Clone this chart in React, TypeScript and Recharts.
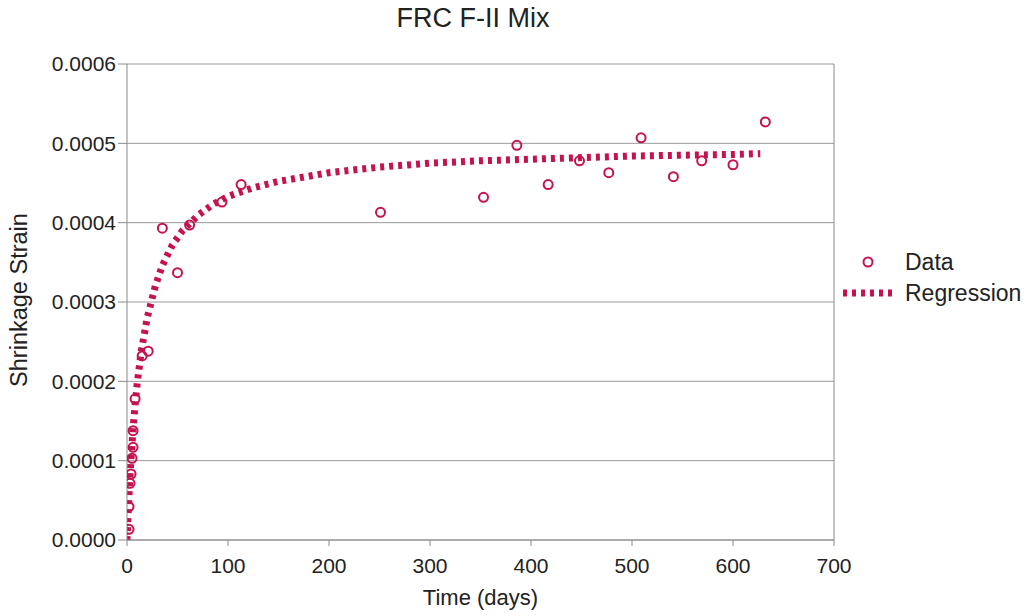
import React from 'react';
import { ComposedChart, Scatter, Line, XAxis, YAxis, CartesianGrid, ReferenceLine } from 'recharts';

// measured shrinkage (day, strain)
const dataDays = [2, 2, 3, 4, 5, 6, 6, 8, 15, 21, 35, 50, 62, 94, 113, 251, 353, 386, 417, 448, 477, 509, 541, 569, 600, 632];
const dataStrain = [
  0.0000135, 0.000042, 0.0000715, 0.0000832, 0.000103, 0.0001168, 0.0001378, 0.000178, 0.000232, 0.000238,
  0.000393, 0.000337, 0.000397, 0.000426, 0.000448, 0.000413, 0.000432, 0.0004975, 0.000448, 0.000478,
  0.000463, 0.000507, 0.000458, 0.000478, 0.000473, 0.000527,
];

// regression curve
const regDays = [0, 2, 4, 6, 8, 10, 14, 20, 28, 35, 45, 55, 70, 85, 100, 125, 150, 200, 250, 300, 350, 400, 450, 500, 550, 600, 627];
const regStrain = [
  0, 0.000057, 0.000103, 0.00014, 0.00017, 0.000196, 0.000237, 0.00028, 0.00032, 0.000346, 0.000372,
  0.00039, 0.000409, 0.000423, 0.000433, 0.000444, 0.000452, 0.000463, 0.00047, 0.000475, 0.000478,
  0.00048, 0.000482, 0.000484, 0.000485, 0.000486, 0.000487,
];

const xTicks = [0, 100, 200, 300, 400, 500, 600, 700];
const yTicks = [0, 0.0001, 0.0002, 0.0003, 0.0004, 0.0005, 0.0006];

const points = dataDays.map((d, i) => ({ day: d, strain: dataStrain[i] }));
const regression = regDays.map((d, i) => ({ day: d, strain: regStrain[i] }));

const RED = '#c4134f';
const FONT = '"Liberation Sans", Arial, Helvetica, sans-serif';

const Ring = (props: any) => (
  <circle cx={props.cx} cy={props.cy} r={4.5} fill="none" stroke={RED} strokeWidth={2} />
);

const App = () => {
  return (
    <div style={{ position: 'absolute', left: 0, top: 0, width: 1033, height: 616, fontFamily: FONT, overflow: 'hidden', background: '#fff' }}>
      <div style={{ position: 'absolute', left: 0, width: 946, top: 3, textAlign: 'center', fontSize: 27, color: '#222' }}>
        FRC F-II Mix
      </div>
      <div
        style={{
          position: 'absolute', left: 19, top: 300, fontSize: 23.5, color: '#222', whiteSpace: 'nowrap',
          transform: 'translate(-50%, -50%) rotate(-90deg)',
        }}
      >
        Shrinkage Strain
      </div>
      <div style={{ position: 'absolute', left: 127, width: 707, top: 585, textAlign: 'center', fontSize: 22, color: '#222' }}>
        Time (days)
      </div>

      <ComposedChart width={1033} height={616} margin={{ top: 64, right: 199, bottom: 0, left: 0 }}>
        <CartesianGrid vertical={false} stroke="#9a9a9a" />
        <XAxis
          type="number"
          dataKey="day"
          domain={[0, 700]}
          ticks={xTicks}
          height={76}
          tickSize={6}
          tickMargin={12}
          stroke="#8a8a8a"
          tick={{ fill: '#222', fontSize: 21, fontFamily: FONT }}
          allowDataOverflow
        />
        <YAxis
          type="number"
          dataKey="strain"
          domain={[0, 0.0006]}
          ticks={yTicks}
          width={127}
          tickSize={9}
          tickMargin={2}
          stroke="#8a8a8a"
          tickFormatter={(v: number) => v.toFixed(4)}
          tick={{ fill: '#222', fontSize: 21, fontFamily: FONT }}
        />
        <ReferenceLine x={700} stroke="#8a8a8a" />
        <Line
          data={regression}
          dataKey="strain"
          type="linear"
          stroke={RED}
          strokeWidth={7}
          strokeDasharray="4 5"
          dot={false}
          activeDot={false}
          isAnimationActive={false}
        />
        <Scatter data={points} dataKey="strain" shape={Ring} isAnimationActive={false} />
      </ComposedChart>

      {/* legend */}
      <svg style={{ position: 'absolute', left: 835, top: 245 }} width={198} height={70}>
        <circle cx={33} cy={17} r={4.5} fill="none" stroke={RED} strokeWidth={2} />
        <text x={70} y={25} fontSize={23} fill="#222" fontFamily={FONT}>Data</text>
        <line x1={8} y1={48} x2={58} y2={48} stroke={RED} strokeWidth={7} strokeDasharray="4 5" />
        <text x={70} y={56} fontSize={23} fill="#222" fontFamily={FONT}>Regression</text>
      </svg>
    </div>
  );
};

export default App;
